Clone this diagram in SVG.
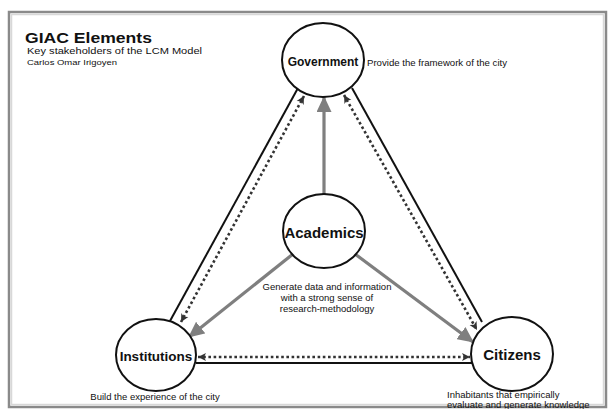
<svg xmlns="http://www.w3.org/2000/svg" width="608" height="409" viewBox="0 0 608 409">
<style>
text{font-family:"Liberation Sans",Arial,sans-serif;fill:#111}
.node{fill:#fff;stroke:#111;stroke-width:2}
.lbl{font-weight:bold;text-anchor:middle}
.solid{stroke:#111;stroke-width:2;fill:none}
.dot{stroke:#333;stroke-width:2.6;stroke-dasharray:2.6 2.6;fill:none}
.gray{stroke:#7f7f7f;stroke-width:3.2;fill:none}
.small{font-size:9.5px}
</style>
<defs>
<marker id="ga" markerUnits="userSpaceOnUse" markerWidth="17" markerHeight="15" refX="15" refY="7.5" orient="auto">
<path d="M0,0 L16,7.5 L0,15 Z" fill="#7f7f7f"/>
</marker>
<marker id="da" markerUnits="userSpaceOnUse" markerWidth="10" markerHeight="10" refX="8" refY="4.5" orient="auto-start-reverse">
<path d="M0,0.5 L8,4.5 L0,8.5 L2,4.5 Z" fill="#333"/>
</marker>
</defs>
<rect x="0" y="0" width="608" height="409" fill="#fff"/>
<rect x="9" y="12" width="597" height="395" fill="#fff" stroke="#8a8a8a" stroke-width="2.5"/>
<rect x="11.5" y="14.5" width="592" height="390" fill="none" stroke="#d8d8d8" stroke-width="1.5"/>

<g id="title">
<text x="25" y="43" font-size="15.5" font-weight="bold" textLength="127" lengthAdjust="spacingAndGlyphs">GIAC Elements</text>
<text x="27" y="54" font-size="9.5" textLength="175" lengthAdjust="spacingAndGlyphs">Key stakeholders of the LCM Model</text>
<text x="27" y="65" font-size="8" textLength="90" lengthAdjust="spacingAndGlyphs">Carlos Omar Irigoyen</text>
</g>

<g id="connectors">
<line class="solid" x1="298" y1="88" x2="170" y2="321"/>
<line class="dot" x1="304" y1="96" x2="181" y2="322" marker-start="url(#da)" marker-end="url(#da)"/>
<line class="solid" x1="352" y1="88" x2="482" y2="322"/>
<line class="dot" x1="344" y1="95" x2="477" y2="330" marker-start="url(#da)" marker-end="url(#da)"/>
<line class="solid" x1="196" y1="363" x2="472" y2="363"/>
<line class="dot" x1="198" y1="357" x2="470" y2="357" marker-start="url(#da)" marker-end="url(#da)"/>
<line class="gray" x1="324" y1="195" x2="324" y2="97" marker-end="url(#ga)"/>
<line class="gray" x1="293" y1="254" x2="189" y2="337" marker-end="url(#ga)"/>
<line class="gray" x1="355" y1="254" x2="473" y2="342" marker-end="url(#ga)"/>
</g>

<g id="government">
<ellipse class="node" cx="323" cy="60" rx="41" ry="37"/>
<text class="lbl" x="323" y="66" font-size="12">Government</text>
<text x="367" y="66" font-size="9" textLength="140" lengthAdjust="spacingAndGlyphs">Provide the framework of the city</text>
</g>

<g id="academics">
<ellipse class="node" cx="324" cy="231" rx="41" ry="37"/>
<text class="lbl" x="324" y="238" font-size="15">Academics</text>
<text class="small" text-anchor="middle" x="327" y="290">Generate data and information</text>
<text class="small" text-anchor="middle" x="327" y="301">with a strong sense of</text>
<text class="small" text-anchor="middle" x="327" y="312">research-methodology</text>
</g>

<g id="institutions">
<ellipse class="node" cx="156" cy="355" rx="40" ry="36"/>
<text class="lbl" x="156" y="361" font-size="13.5">Institutions</text>
<text class="small" text-anchor="middle" x="155" y="400">Build the experience of the city</text>
</g>

<g id="citizens">
<ellipse class="node" cx="512" cy="354" rx="41" ry="37"/>
<text class="lbl" x="512" y="360" font-size="15">Citizens</text>
<text class="small" x="447" y="398">Inhabitants that empirically</text>
<text class="small" x="447" y="408">evaluate and generate knowledge</text>
</g>
</svg>
